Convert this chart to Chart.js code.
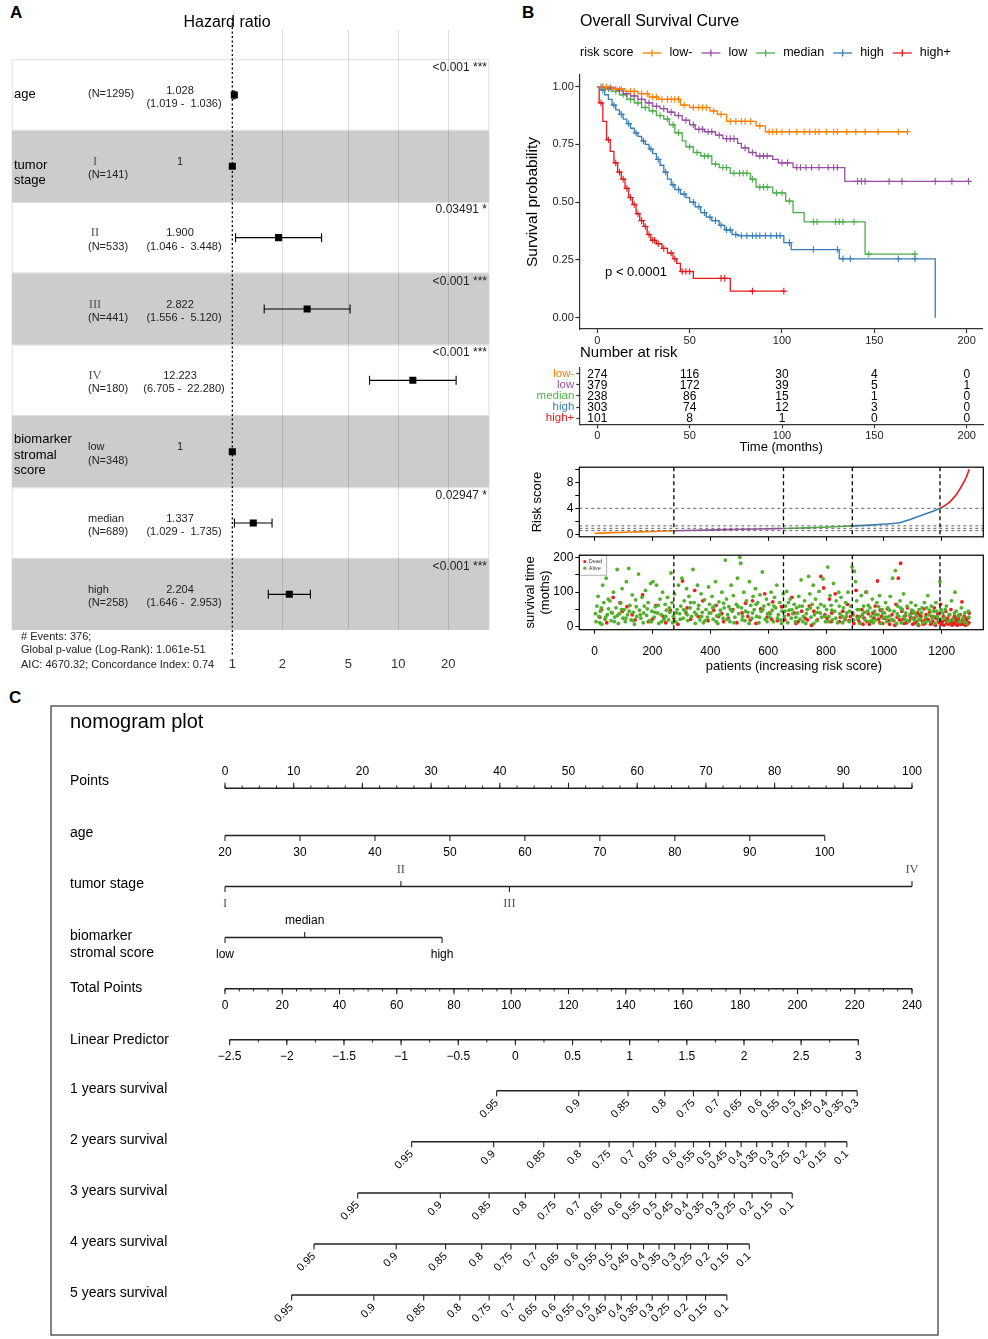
<!DOCTYPE html>
<html>
<head>
<meta charset="utf-8">
<script src="https://cdn.jsdelivr.net/npm/chart.js@4.4.1/dist/chart.umd.min.js"></script>
<style>
html, body { margin: 0; padding: 0; background: #fff; }
body { width: 988px; height: 1339px; position: relative; overflow: hidden; font-family: "Liberation Sans", Arial, sans-serif; }
canvas { position: absolute; }
.tag { position: absolute; font-weight: bold; font-size: 17px; line-height: 1; }
</style>
</head>
<body>
<div class="tag" style="left:10px;top:4px">A</div>
<div class="tag" style="left:522px;top:4px">B</div>
<div class="tag" style="left:9px;top:689px">C</div>
<canvas id="forest" width="500" height="680" style="left:0;top:0"></canvas>
<canvas id="km" width="478" height="350" style="left:510px;top:0"></canvas>
<canvas id="risk" width="478" height="118" style="left:510px;top:340px"></canvas>
<canvas id="score" width="478" height="88" style="left:510px;top:458px"></canvas>
<canvas id="dots" width="478" height="134" style="left:510px;top:546px"></canvas>
<canvas id="nomo" width="988" height="654" style="left:0;top:685px"></canvas>
<script>
// ── DATA: forest plot (Cox model) ──
const hrRows  = ['age', 'I', 'II', 'III', 'IV', 'low', 'median', 'high'];
const hrN     = [1295, 141, 533, 441, 180, 348, 689, 258];
const hrEst   = [1.028, 1, 1.900, 2.822, 12.223, 1, 1.337, 2.204];
const hrLow   = [1.019, null, 1.046, 1.556, 6.705, null, 1.029, 1.646];
const hrHigh  = [1.036, null, 3.448, 5.120, 22.280, null, 1.735, 2.953];
const hrP     = ['<0.001 ***', '', '0.03491 *', '<0.001 ***', '<0.001 ***', '', '0.02947 *', '<0.001 ***'];
const hrTicks = [1, 2, 5, 10, 20];
const hrGroups = [
    { row: 0, lines: ['age'], dy: [-1] },
    { row: 1, lines: ['tumor', 'stage'], dy: [-1, 14] },
    { row: 5, lines: ['biomarker', 'stromal', 'score'], dy: [-12, 3.5, 19] },
];
const hrFooter = ['# Events: 376;', 'Global p-value (Log-Rank): 1.061e-51', 'AIC: 4670.32; Concordance Index: 0.74'];

// ── DATA: survival curves [months, survival] + censor times ──
const grpNames  = ['low-', 'low', 'median', 'high', 'high+'];
const grpColors = ['#FF7F00', '#984EA3', '#4DAF4A', '#377EB8', '#E41A1C'];

const kmLowMinus = [[0,1],[8,0.99],[15,0.98],[22,0.97],[28,0.955],[33,0.945],[45,0.92],[50,0.91],[61,0.895],[65,0.88],[70,0.85],[86,0.83],[91,0.805]];
const cenLowMinus = [5,10,13,18,20,24,27,30,32,35,38,40,42,44,47,52,55,57,59,63,67,72,75,78,80,83,88,93,95,97,100,104,108,112,115,118,120,124,128,130,135,140,145,152,163,168];
const kmLow = [[0,1],[5,0.995],[10,0.985],[14,0.97],[18,0.96],[22,0.945],[26,0.93],[30,0.915],[34,0.905],[38,0.89],[42,0.875],[46,0.855],[50,0.835],[53,0.815],[58,0.805],[64,0.79],[68,0.775],[76,0.755],[78,0.735],[82,0.715],[86,0.70],[95,0.685],[98,0.67],[106,0.65],[134,0.59]];
const cenLow = [3,7,12,16,20,24,28,32,36,40,44,48,52,55,57,60,62,66,70,72,74,80,84,88,90,92,100,103,108,110,113,116,120,125,128,130,141,143,145,158,165,183,192,201];
const kmMedian = [[0,1],[4,0.99],[8,0.98],[12,0.965],[16,0.945],[20,0.93],[24,0.91],[28,0.895],[32,0.875],[36,0.86],[39,0.835],[42,0.80],[46,0.765],[48,0.74],[52,0.715],[56,0.70],[62,0.665],[66,0.65],[72,0.625],[83,0.60],[86,0.565],[95,0.54],[102,0.505],[106,0.455],[112,0.415],[145,0.275]];
const cenMedian = [2,6,10,14,18,22,26,30,34,38,41,44,50,54,58,60,64,68,70,74,77,79,81,84,88,90,92,97,100,104,117,119,129,131,133,139,147,172];
const kmHigh = [[0,1],[2,0.985],[4,0.965],[6,0.945],[8,0.92],[10,0.9],[12,0.88],[14,0.86],[16,0.84],[18,0.82],[20,0.80],[22,0.785],[24,0.765],[26,0.75],[28,0.73],[30,0.71],[32,0.685],[34,0.66],[36,0.63],[38,0.60],[40,0.575],[42,0.555],[45,0.535],[48,0.52],[50,0.50],[53,0.48],[56,0.455],[59,0.435],[62,0.42],[66,0.40],[69,0.38],[73,0.36],[76,0.355],[101,0.325],[105,0.295],[131,0.255],[183,0]];
const cenHigh = [3,9,13,17,21,25,29,33,37,41,44,47,52,55,58,61,64,67,70,72,75,78,81,84,86,88,91,94,97,99,104,117,130,133,137,163,172];
const kmHighPlus = [[0,1],[1,0.93],[3,0.85],[5,0.77],[7,0.72],[9,0.67],[11,0.63],[13,0.6],[15,0.56],[17,0.52],[19,0.49],[21,0.45],[23,0.42],[25,0.395],[27,0.36],[29,0.335],[32,0.32],[35,0.30],[38,0.28],[41,0.255],[43,0.235],[45,0.2],[52,0.17],[72,0.115]];
const cenHighPlus = [2,6,10,12,14,16,18,20,22,24,26,28,30,31,33,36,40,42,46,48,50,67,69,84,101];
const kmTicksX = [0, 50, 100, 150, 200];
const kmTicksY = [0, 0.25, 0.5, 0.75, 1];

// ── DATA: number at risk ──
const riskTimes    = [0, 50, 100, 150, 200];
const riskLowMinus = [274, 116, 30, 4, 0];
const riskLow      = [379, 172, 39, 5, 1];
const riskMedian   = [238, 86, 15, 1, 0];
const riskHigh     = [303, 74, 12, 3, 0];
const riskHighPlus = [101, 8, 1, 0, 0];

// ── DATA: risk score by patient rank ──
const scoreLowMinus = [[0,0.16],[60,0.27],[130,0.36],[200,0.45],[274,0.56]];
const scoreLow      = [[274,0.56],[380,0.66],[480,0.75],[570,0.83],[653,0.91]];
const scoreMedian   = [[653,0.91],[730,1.0],[810,1.13],[891,1.31]];
const scoreHigh     = [[891,1.31],[950,1.42],[1010,1.6],[1055,1.8],[1091,2.3],[1136,3.0],[1160,3.4],[1194,4.0]];
const scoreHighPlus = [[1194,4.0],[1217,4.6],[1235,5.3],[1252,6.2],[1275,7.9],[1286,8.9],[1295,10.0]];
const cutPatients = [274, 653, 891, 1194];
const cutScores   = [0.58, 0.93, 1.31, 4.0];
const patientTicks = [0, 200, 400, 600, 800, 1000, 1200];
const scoreTicks   = [0, 2, 4, 6, 8, 10];
const timeTicks    = [0, 50, 100, 150, 200];

// ── DATA: survival time per patient [rank, months] ──
const alivePts = [[5,15],[8,60],[12,88],[15,30],[20,45],[25,8],[28,120],[32,70],[36,22],[40,140],[44,35],[48,52],
[53,75],[57,18],[61,40],[65,100],[70,28],[74,55],[78,165],[82,10],[86,38],[90,68],[95,110],[98,25],
[102,50],[106,15],[110,130],[114,35],[118,168],[122,62],[126,20],[130,92],[134,42],[138,8],[142,78],[146,30],
[152,152],[155,48],[160,25],[164,85],[168,12],[172,60],[176,105],[180,33],[185,70],[190,18],[194,125],[198,45],
[202,130],[206,28],[210,58],[214,120],[218,40],[222,10],[226,80],[230,35],[235,100],[240,22],[244,65],[248,48],
[252,85],[256,20],[260,42],[264,155],[268,70],[272,30],[276,95],[280,15],[285,50],[290,120],[294,38],[298,60],
[302,140],[306,25],[310,75],[314,45],[318,110],[322,18],[326,88],[330,55],[335,30],[340,165],[344,70],[348,10],
[352,35],[356,120],[360,62],[364,20],[368,95],[372,42],[376,12],[380,78],[385,50],[390,28],[394,115],[398,65],
[402,40],[406,88],[410,22],[414,60],[418,130],[422,32],[426,10],[430,72],[435,48],[440,100],[444,25],[448,55],
[452,192],[456,80],[460,35],[464,58],[468,15],[472,120],[476,45],[480,90],[485,28],[490,65],[494,140],[498,38],
[502,200],[505,183],[508,55],[512,30],[516,100],[520,18],[525,75],[530,42],[535,130],[540,62],[544,25],[548,88],
[552,50],[556,110],[560,30],[564,70],[568,12],[572,92],[576,45],[580,158],[585,60],[590,22],[594,80],[598,38],
[602,65],[606,28],[610,100],[614,48],[618,15],[622,85],[626,55],[630,120],[635,35],[640,70],[644,20],[648,45],
[652,95],[656,30],[660,60],[664,102],[668,12],[672,48],[676,80],[680,25],[685,38],[690,65],[694,15],[698,55],
[702,40],[706,88],[710,22],[714,135],[718,60],[722,30],[726,75],[730,10],[735,50],[740,145],[744,95],[748,28],
[752,65],[756,120],[760,35],[764,80],[768,18],[772,55],[776,102],[780,40],[785,28],[790,138],[794,60],[798,15],
[802,50],[806,172],[810,30],[814,90],[818,62],[822,20],[826,125],[830,45],[835,75],[840,12],[844,100],[848,38],
[852,85],[856,30],[860,55],[864,20],[868,70],[872,40],[876,100],[880,15],[885,60],[890,172],[894,35],[898,160],
[902,130],[906,75],[910,25],[914,50],[918,10],[922,90],[926,35],[930,60],[935,20],[940,100],[944,45],[948,15],
[952,55],[956,30],[960,80],[964,12],[968,45],[972,20],[976,70],[980,35],[985,90],[990,10],[994,50],[998,25],
[1002,40],[1006,70],[1010,15],[1014,55],[1018,30],[1022,88],[1026,20],[1030,140],[1035,45],[1040,162],[1044,10],[1048,60],
[1052,30],[1056,75],[1060,12],[1064,50],[1068,95],[1072,22],[1076,40],[1080,60],[1085,15],[1090,35],[1094,70],[1098,25],
[1102,45],[1106,18],[1110,62],[1114,30],[1118,8],[1122,50],[1126,22],[1130,40],[1135,12],[1140,70],[1144,28],[1148,55],
[1152,90],[1156,35],[1160,15],[1164,60],[1168,25],[1172,45],[1176,10],[1180,70],[1185,30],[1190,20],[1194,130],[1198,50],
[1204,40],[1210,25],[1216,60],[1222,15],[1228,35],[1234,75],[1240,20],[1246,100],[1250,45],
[1256,30],[1262,15],[1268,55],[1274,25],[1280,40],[1286,10],[1292,45],
[3,38],[18,12],[23,55],[38,28],[47,80],[58,42],[68,15],[79,33],[93,50],[108,25],[120,45],[132,18],[144,58],[158,35],
[170,40],[182,52],[196,15],[208,42],[220,62],[232,15],[246,30],[258,55],[270,12],[282,40],[296,22],[308,50],[320,35],
[332,70],[346,42],[358,52],[370,30],[382,18],[396,40],[408,55],[420,15],[432,35],[446,68],[458,22],[470,50],[482,12],
[496,58],[510,20],[522,45],[534,10],[546,40],[558,65],[570,28],[582,50],[596,15],[608,38],[620,60],[632,25],[646,10],
[658,45],[670,70],[682,50],[696,28],[708,60],[720,15],[732,38],[746,55],[758,10],[770,42],[782,65],[796,30],[808,15],
[820,48],[834,25],[846,60],[858,12],[870,30],[882,45],[896,20],[908,50],[920,30],[932,42],[946,62],[958,18],[970,35],
[982,58],[996,40],[1008,28],[1020,48],[1032,20],[1046,38],[1058,55],[1070,30],[1082,18],[1096,48],[1108,38],[1120,20],
[1132,55],[1146,15],[1158,48],[1170,30],[1182,45],[1196,22],[1212,50],[1226,18],[1244,40],[1260,35],[1278,15],[1294,28]];
const deadPts = [[18,28],[42,12],[64,85],[88,70],[96,45],[112,58],[140,20],[166,92],[186,15],[212,62],[238,30],[246,12],
[262,48],[274,26],[288,8],[304,132],[316,40],[332,22],[346,105],[358,30],[374,75],[392,18],[412,48],[428,30],[446,15],
[420,62],[462,25],[478,50],[492,12],[510,40],[522,68],[538,20],[546,75],[558,10],[574,52],[588,95],[596,28],[604,40],
[616,72],[632,18],[646,58],[658,20],[670,35],[682,85],[696,10],[704,15],[716,45],[728,25],[742,60],[750,5],[758,45],
[770,20],[782,145],[792,112],[796,35],[804,25],[812,80],[820,40],[832,95],[846,15],[858,45],[866,22],[874,65],[884,30],
[892,40],[896,10],[904,105],[908,30],[916,12],[924,50],[932,25],[938,100],[946,38],[950,8],[954,15],[962,40],[970,60],
[978,132],[982,22],[988,48],[996,10],[992,30],[1004,25],[1012,52],[1020,8],[1028,35],[1034,18],[1042,65],[1046,28],
[1050,140],[1054,20],[1058,183],[1062,45],[1070,10],[1074,32],[1082,55],[1088,18],[1096,40],[1100,8],[1104,25],[1108,12],
[1116,40],[1120,5],[1128,30],[1132,18],[1138,52],[1142,10],[1146,35],[1150,22],[1154,20],[1158,42],[1162,8],[1166,30],
[1170,15],[1174,55],[1178,5],[1182,25],[1186,38],[1192,12],[1196,65],[1202,15],[1206,30],[1208,5],[1212,20],[1214,45],
[1218,10],[1220,25],[1224,8],[1226,35],[1230,15],[1232,50],[1236,5],[1238,22],[1242,12],[1244,30],[1248,8],[1252,18],
[1254,5],[1258,25],[1260,10],[1264,35],[1266,8],[1270,72],[1272,20],[1276,12],[1278,30],[1282,5],[1284,18],[1288,8],
[1290,25],[1294,12],[1295,40],[912,20],[928,8],[942,15],[966,25],[986,12],[1016,18],[1038,5],[1066,22],[1078,12],
[1092,28],[1112,15],[1124,35],[1136,8],[1144,20],[1164,12],[1176,28],[1188,15],[1200,8],[1216,18],[1234,12],[1250,25],
[1262,15],[1274,8],[1286,22],[24,50],[130,35],[200,22],[320,55],[440,38],[530,30],[612,22],[690,40],[736,20],[818,15],
[850,28],[880,18]];
const dotTicksY = [0, 50, 100, 150, 200];

// ── DATA: nomogram ──
const pointsTicks  = [0, 10, 20, 30, 40, 50, 60, 70, 80, 90, 100];
const ageTicks     = [20, 30, 40, 50, 60, 70, 80, 90, 100];
const ageRange     = [20, 100];
const agePtsRange  = [0, 87.3];
const stageLevels  = ['I', 'II', 'III', 'IV'];
const stagePts     = [0, 25.6, 41.4, 100];
const stromaLevels = ['low', 'median', 'high'];
const stromaPts    = [0, 11.6, 31.6];
const totalTicks   = [0, 20, 40, 60, 80, 100, 120, 140, 160, 180, 200, 220, 240];
const totalRange   = [0, 240];
const lpTicks      = [-2.5, -2, -1.5, -1, -0.5, 0, 0.5, 1, 1.5, 2, 2.5, 3];
const lpRange      = [-2.5, 3];
const lpPtsRange   = [0.68, 92.18];
const surv1Probs = [0.95,0.9,0.85,0.8,0.75,0.7,0.65,0.6,0.55,0.5,0.45,0.4,0.35,0.3];
const surv1LP    = [-0.164,0.554,0.986,1.307,1.558,1.774,1.970,2.146,2.297,2.442,2.583,2.719,2.859,2.990];
const survProbs  = [0.95,0.9,0.85,0.8,0.75,0.7,0.65,0.6,0.55,0.5,0.45,0.4,0.35,0.3,0.25,0.2,0.15,0.1];
const surv2LP = [-0.908,-0.190,0.248,0.564,0.820,1.031,1.227,1.398,1.558,1.699,1.840,1.975,2.111,2.247,2.387,2.543,2.709,2.900];
const surv3LP = [-1.380,-0.657,-0.230,0.087,0.343,0.559,0.750,0.921,1.081,1.227,1.368,1.503,1.639,1.774,1.915,2.071,2.237,2.422];
const surv4LP = [-1.762,-1.043,-0.611,-0.295,-0.039,0.177,0.368,0.539,0.700,0.840,0.981,1.121,1.257,1.393,1.533,1.689,1.855,2.046];
const surv5LP = [-1.958,-1.239,-0.802,-0.486,-0.230,-0.014,0.177,0.343,0.504,0.644,0.785,0.926,1.061,1.197,1.337,1.498,1.664,1.850];

// ── HELPERS ──
const FONT  = '"Liberation Sans", Arial, Helvetica, sans-serif';
const SERIF = '"Liberation Serif", "Times New Roman", serif';
Chart.defaults.font.family = FONT;
Chart.defaults.color = '#000';

function txt(ctx, s, x, y, o = {}) {
    ctx.save();
    ctx.font = (o.weight || '') + ' ' + (o.size || 12) + 'px ' + (o.family || FONT);
    ctx.fillStyle = o.color || '#000';
    ctx.textAlign = o.align || 'left';
    ctx.textBaseline = o.base || 'middle';
    ctx.translate(x, y);
    if (o.rot) ctx.rotate(o.rot);
    ctx.fillText(s, 0, 0);
    ctx.restore();
}
function seg(ctx, x1, y1, x2, y2) {
    ctx.beginPath(); ctx.moveTo(x1, y1); ctx.lineTo(x2, y2); ctx.stroke();
}
function lin(v, from, to) {
    return to[0] + (v - from[0]) * (to[1] - to[0]) / (from[1] - from[0]);
}
function seq(a, b, s) {
    const out = [];
    for (let v = a; v <= b + 1e-9; v += s) out.push(+v.toFixed(4));
    return out;
}
function fixTicks(values) {
    return s => { s.ticks = values.map(v => ({ value: v })); };
}
const base = { responsive: false, animation: false, events: [],
    plugins: { legend: { display: false }, tooltip: { enabled: false } } };

// ── A: FOREST PLOT ──
const forestDeco = {
    id: 'forestDeco',
    beforeDraw(chart) {
        const { ctx, chartArea: a, scales: { y } } = chart;
        ctx.save();
        hrRows.forEach((r, i) => {
            const t = y.getPixelForValue(i), b = y.getPixelForValue(i + 1);
            if (i % 2) {
                ctx.fillStyle = '#cccccc';
                ctx.fillRect(a.left, t, a.right - a.left, b - t);
            } else {
                ctx.strokeStyle = '#e0e0e0'; ctx.lineWidth = 1;
                ctx.strokeRect(a.left + 0.5, t + 0.5, a.right - a.left - 1, b - t - 1);
            }
        });
        ctx.restore();
    },
    beforeDatasetsDraw(chart) {
        const { ctx, scales: { x, y } } = chart;
        ctx.save();
        ctx.strokeStyle = '#000'; ctx.lineWidth = 1.3;
        ctx.setLineDash([2, 2.5]);
        const x1 = x.getPixelForValue(1);
        seg(ctx, x1, 18, x1, 656);
        ctx.setLineDash([]);
        ctx.lineWidth = 1.1;
        hrLow.forEach((lo, i) => {
            if (lo == null) return;
            const cy = y.getPixelForValue(i + 0.5);
            const xl = x.getPixelForValue(lo), xh = x.getPixelForValue(hrHigh[i]);
            seg(ctx, xl, cy, xh, cy);
            seg(ctx, xl, cy - 4.5, xl, cy + 4.5);
            seg(ctx, xh, cy - 4.5, xh, cy + 4.5);
        });
        ctx.restore();
    },
    afterDraw(chart) {
        const { ctx, scales: { y } } = chart;
        txt(ctx, 'Hazard ratio', 227, 23, { size: 16, align: 'center' });
        hrGroups.forEach(g => g.lines.forEach((s, k) =>
            txt(ctx, s, 14, y.getPixelForValue(g.row + 0.5) + g.dy[k], { size: 13 })));
        hrRows.forEach((lvl, i) => {
            const cy = y.getPixelForValue(i + 0.5), top = y.getPixelForValue(i);
            const n = '(N=' + hrN[i] + ')';
            if (i === 0) {
                txt(ctx, n, 88, cy - 1, { size: 11, color: '#222' });
            } else {
                if (i <= 4) txt(ctx, lvl, 95, cy - 4.5, { size: 12.5, family: SERIF, align: 'center', color: '#555' });
                else txt(ctx, lvl, 88, cy - 4.5, { size: 11, color: '#222' });
                txt(ctx, n, 88, cy + 9, { size: 11, color: '#222' });
            }
            const est = hrLow[i] == null ? '1' : hrEst[i].toFixed(3);
            txt(ctx, est, 180, cy - 4.5, { size: 11, align: 'center', color: '#222' });
            if (hrLow[i] != null)
                txt(ctx, '(' + hrLow[i].toFixed(3) + ' -  ' + hrHigh[i].toFixed(3) + ')', 184, cy + 9,
                    { size: 11, align: 'center', color: '#222' });
            if (hrP[i]) txt(ctx, hrP[i], 487, top + 8, { size: 12, align: 'right', color: '#222' });
        });
        hrFooter.forEach((s, k) => txt(ctx, s, 21, [637, 650, 665][k], { size: 11, color: '#222' }));
    }
};

new Chart(document.getElementById('forest'), {
    type: 'scatter',
    data: { datasets: [{
        data: hrEst.map((v, i) => ({ x: v, y: i + 0.5 })),
        pointStyle: 'rect', pointRadius: 5, backgroundColor: '#000', borderColor: '#000', borderWidth: 0
    }] },
    options: { ...base,
        layout: { padding: { left: 11.7, right: 10.7, top: 30, bottom: 0 } },
        scales: {
            x: { type: 'logarithmic', min: 0.0469, max: 35.3,
                afterBuildTicks: fixTicks(hrTicks),
                afterFit: s => { s.height = 50; },
                border: { display: false },
                grid: { drawTicks: false, lineWidth: 1,
                    color: c => (c.tick && c.tick.value === 1) ? 'rgba(0,0,0,0)' : 'rgba(0,0,0,0.13)' },
                ticks: { padding: 27, font: { size: 13 }, color: '#333', maxRotation: 0, autoSkip: false,
                    callback: v => String(v) } },
            y: { type: 'linear', display: false, reverse: true, min: -0.411, max: 8.0 }
        }
    },
    plugins: [forestDeco]
});

// ── B: KAPLAN-MEIER ──
function kmData(steps, cens) {
    const pts = steps.map(([t, s]) => ({ x: t, y: s, c: 0 }));
    cens.forEach(t => {
        let s = 1;
        steps.forEach(([tt, ss]) => { if (tt <= t) s = ss; });
        pts.push({ x: t, y: s, c: 1 });
    });
    return pts.sort((a, b) => a.x - b.x || a.c - b.c);
}
const kmSets = [[kmLowMinus, cenLowMinus], [kmLow, cenLow], [kmMedian, cenMedian], [kmHigh, cenHigh], [kmHighPlus, cenHighPlus]];

const axisStyle = {
    border: { color: '#333', width: 1.2 },
    grid: { drawOnChartArea: false, tickLength: 4, tickColor: '#333', tickWidth: 1.2 },
};

const kmDeco = {
    id: 'kmDeco',
    afterDraw(chart) {
        const { ctx, scales: { x, y } } = chart;
        txt(ctx, 'Overall Survival Curve', 70, 22, { size: 16 });
        txt(ctx, 'risk score', 70, 53, { size: 12.5 });
        ctx.save();
        ctx.font = '12.5px ' + FONT;
        let cx = 70 + ctx.measureText('risk score').width + 9;
        grpNames.forEach((nm, g) => {
            ctx.strokeStyle = grpColors[g]; ctx.lineWidth = 1.3;
            seg(ctx, cx, 53, cx + 19, 53);
            seg(ctx, cx + 9.5, 49.5, cx + 9.5, 56.5);
            txt(ctx, nm, cx + 27, 53, { size: 12.5 });
            cx += 27 + ctx.measureText(nm).width + 9;
        });
        ctx.restore();
        txt(ctx, 'p < 0.0001', x.getPixelForValue(4.2), y.getPixelForValue(0.198), { size: 13 });
    }
};

new Chart(document.getElementById('km'), {
    type: 'scatter',
    data: { datasets: kmSets.map(([st, ce], g) => ({
        data: kmData(st, ce), showLine: true, stepped: 'before',
        borderColor: grpColors[g], borderWidth: 1.3,
        pointStyle: 'cross', pointRadius: c => (c.raw && c.raw.c ? 3.3 : 0),
        pointBorderColor: grpColors[g], pointBorderWidth: 1.1, clip: false
    })) },
    options: { ...base,
        layout: { padding: { top: 75, right: 5, left: 0, bottom: 0 } },
        scales: {
            x: { type: 'linear', min: -9.75, max: 208.8, ...axisStyle,
                afterBuildTicks: fixTicks(kmTicksX), afterFit: s => { s.height = 21; },
                ticks: { font: { size: 11 }, color: '#222', padding: 1, maxRotation: 0, autoSkip: false } },
            y: { type: 'linear', min: -0.049, max: 1.0506, ...axisStyle,
                afterBuildTicks: fixTicks(kmTicksY), afterFit: s => { s.width = 69.3; },
                ticks: { font: { size: 11 }, color: '#222', padding: 1.5, autoSkip: false, callback: v => v.toFixed(2) },
                title: { display: true, text: 'Survival probability', font: { size: 15.5 }, color: '#000',
                    padding: { top: 13.7, bottom: 0 } } }
        }
    },
    plugins: [kmDeco]
});

// ── B: NUMBER AT RISK ──
const riskRows = [riskLowMinus, riskLow, riskMedian, riskHigh, riskHighPlus];
const riskDeco = {
    id: 'riskDeco',
    afterDraw(chart) {
        const { ctx, scales: { x, y } } = chart;
        txt(ctx, 'Number at risk', 70, 13.3, { size: 15 });
        riskRows.forEach((arr, g) => arr.forEach((n, k) =>
            txt(ctx, String(n), x.getPixelForValue(riskTimes[k]), y.getPixelForValue(g) + 0.5,
                { size: 12, align: 'center' })));
    }
};
new Chart(document.getElementById('risk'), {
    type: 'scatter',
    data: { datasets: [] },
    options: { ...base,
        layout: { padding: { top: 28, right: 5, left: 0, bottom: 0 } },
        scales: {
            x: { type: 'linear', min: -9.75, max: 208.8, ...axisStyle,
                afterBuildTicks: fixTicks(timeTicks), afterFit: s => { s.height = 33.7; },
                ticks: { font: { size: 11 }, color: '#222', padding: 1, maxRotation: 0, autoSkip: false },
                title: { display: true, text: 'Time (months)', font: { size: 13 }, color: '#000',
                    padding: { top: 0, bottom: 3 } } },
            y: { type: 'linear', min: -0.511, max: 4.538, reverse: true, ...axisStyle,
                grid: { drawOnChartArea: false, tickLength: 3, tickColor: '#333', tickWidth: 1.2 },
                afterBuildTicks: fixTicks([0, 1, 2, 3, 4]), afterFit: s => { s.width = 69.3; },
                ticks: { font: { size: 11.5 }, padding: 2, autoSkip: false,
                    color: c => grpColors[c.index] || '#000', callback: v => grpNames[v] } }
        }
    },
    plugins: [riskDeco]
});

// ── B: RISK SCORE CURVE ──
const patScale = { type: 'linear', min: -52.9, max: 1343.8, afterBuildTicks: fixTicks(patientTicks),
    border: { display: false } };
const boxDeco = (extra) => ({
    id: 'boxDeco',
    afterDatasetsDraw(chart) {
        const { ctx, chartArea: a, scales: { x, y } } = chart;
        ctx.save();
        extra(ctx, a, x, y);
        ctx.strokeStyle = '#000'; ctx.lineWidth = 1.2;
        ctx.strokeRect(a.left, a.top, a.right - a.left, a.bottom - a.top);
        ctx.restore();
    }
});
const cutLines = (ctx, a, x) => {
    ctx.strokeStyle = '#000'; ctx.lineWidth = 1.3; ctx.setLineDash([4, 3]);
    cutPatients.forEach(p => { const px = x.getPixelForValue(p); seg(ctx, px, a.top, px, a.bottom); });
    ctx.setLineDash([]);
};

new Chart(document.getElementById('score'), {
    type: 'scatter',
    data: { datasets: [scoreLowMinus, scoreLow, scoreMedian, scoreHigh, scoreHighPlus].map((d, g) => ({
        data: d.map(([x, y]) => ({ x, y })), showLine: true, cubicInterpolationMode: 'monotone',
        borderColor: grpColors[g], borderWidth: 1.6, pointRadius: 0
    })) },
    options: { ...base,
        layout: { padding: { top: 2, right: 4.7, left: 0, bottom: 0 } },
        scales: {
            x: { ...patScale, afterFit: s => { s.height = 5; },
                grid: { drawOnChartArea: false, tickLength: 4, tickColor: '#000', tickWidth: 1 },
                ticks: { display: false } },
            y: { type: 'linear', min: -0.37, max: 10.32, border: { display: false },
                afterBuildTicks: fixTicks(scoreTicks), afterFit: s => { s.width = 69.3; },
                grid: { drawOnChartArea: false, tickLength: 4, tickColor: '#000', tickWidth: 1 },
                ticks: { font: { size: 12 }, padding: 2, color: '#000', autoSkip: false,
                    callback: v => (v === 0 || v === 4 || v === 8) ? String(v) : '' },
                title: { display: true, text: 'Risk score', font: { size: 13 }, color: '#000',
                    padding: { top: 20, bottom: 0 } } }
        }
    },
    plugins: [boxDeco((ctx, a, x, y) => {
        ctx.strokeStyle = '#666'; ctx.lineWidth = 1; ctx.setLineDash([3, 3]);
        cutScores.forEach(v => { const py = y.getPixelForValue(v); seg(ctx, a.left, py, a.right, py); });
        cutLines(ctx, a, x);
    })]
});

// ── B: SURVIVAL TIME SCATTER ──
new Chart(document.getElementById('dots'), {
    type: 'scatter',
    data: { datasets: [
        { data: alivePts.map(([x, y]) => ({ x, y })), pointRadius: 1.9, backgroundColor: '#52b12a', borderWidth: 0 },
        { data: deadPts.map(([x, y]) => ({ x, y })), pointRadius: 1.9, backgroundColor: '#e8231e', borderWidth: 0 }
    ] },
    options: { ...base,
        layout: { padding: { top: 3, right: 4.7, left: 0, bottom: 0 } },
        scales: {
            x: { ...patScale, afterFit: s => { s.height = 50.3; },
                grid: { drawOnChartArea: false, tickLength: 4, tickColor: '#000', tickWidth: 1 },
                ticks: { font: { size: 12 }, color: '#000', padding: 11, maxRotation: 0, autoSkip: false,
                    callback: v => String(v) } },
            y: { type: 'linear', min: -7.96, max: 206.1, border: { display: false },
                afterBuildTicks: fixTicks(dotTicksY), afterFit: s => { s.width = 69.3; },
                grid: { drawOnChartArea: false, tickLength: 4, tickColor: '#000', tickWidth: 1 },
                ticks: { font: { size: 12 }, padding: 2, color: '#000', autoSkip: false,
                    callback: v => (v % 100 === 0) ? String(v) : '' },
                title: { display: true, text: ['survival time', '(moths)'], font: { size: 13 }, color: '#000',
                    padding: { top: 12.2, bottom: 0 } } }
        }
    },
    plugins: [boxDeco((ctx, a, x) => {
        cutLines(ctx, a, x);
        ctx.fillStyle = '#fff'; ctx.strokeStyle = '#999'; ctx.lineWidth = 0.8;
        ctx.fillRect(a.left, a.top, 27.4, 20); ctx.strokeRect(a.left, a.top, 27.4, 20);
        [['Dead', '#e8231e', 6.3], ['Alive', '#52b12a', 13]].forEach(([s, c, dy]) => {
            ctx.fillStyle = c; ctx.beginPath(); ctx.arc(a.left + 5.5, a.top + dy, 1.6, 0, Math.PI * 2); ctx.fill();
            txt(ctx, s, a.left + 9.5, a.top + dy, { size: 5.5, color: '#333' });
        });
        txt(ctx, 'patients (increasing risk score)', 284, 120.7, { size: 13, align: 'center' });
    })]
});

// ── C: NOMOGRAM ──
const lpPts = v => lin(v, lpRange, lpPtsRange);
const nomoAxes = [
    { label: ['Points'], dy: [-7], row: 0.075, pos: pointsTicks, text: pointsTicks.map(String), side: -1,
      minor: seq(0, 100, 2.5) },
    { label: ['age'], dy: [-2.5], row: 1, pos: ageTicks.map(v => lin(v, ageRange, agePtsRange)),
      text: ageTicks.map(String), side: 1 },
    { label: ['tumor stage'], dy: [-2.5], row: 2, pos: stagePts, text: stageLevels, side: [1, -1, 1, -1], serif: true },
    { label: ['biomarker', 'stromal score'], dy: [-1.6, 15.4], row: 3, pos: stromaPts, text: stromaLevels, side: [1, -1, 1] },
    { label: ['Total Points'], dy: [-0.7], row: 4, pos: totalTicks.map(v => lin(v, totalRange, [0, 100])),
      text: totalTicks.map(String), side: 1, minor: seq(0, 240, 5).map(v => lin(v, totalRange, [0, 100])) },
    { label: ['Linear Predictor'], dy: [0], row: 5, pos: lpTicks.map(lpPts),
      text: lpTicks.map(v => String(v).replace('-', '\u2212')), side: 1, minor: seq(-2.5, 3, 0.25).map(lpPts) },
    { label: ['1 years survival'], dy: [-1.8], row: 6, pos: surv1LP.map(lpPts), text: surv1Probs.map(String), side: 1, rot: true },
    { label: ['2 years survival'], dy: [-1.8], row: 7, pos: surv2LP.map(lpPts), text: survProbs.map(String), side: 1, rot: true },
    { label: ['3 years survival'], dy: [-1.8], row: 8, pos: surv3LP.map(lpPts), text: survProbs.map(String), side: 1, rot: true },
    { label: ['4 years survival'], dy: [-1.8], row: 9, pos: surv4LP.map(lpPts), text: survProbs.map(String), side: 1, rot: true },
    { label: ['5 years survival'], dy: [-1.8], row: 10, pos: surv5LP.map(lpPts), text: survProbs.map(String), side: 1, rot: true },
];

const nomoDeco = {
    id: 'nomoDeco',
    afterDatasetsDraw(chart) {
        const { ctx, scales: { x, y } } = chart;
        ctx.save();
        ctx.strokeStyle = '#444'; ctx.lineWidth = 1.3;
        ctx.strokeRect(51, 21, 887, 629);
        txt(ctx, 'nomogram plot', 70, 37, { size: 20 });
        nomoAxes.forEach(ax => {
            const yy = y.getPixelForValue(ax.row);
            const side = k => Array.isArray(ax.side) ? ax.side[k] : ax.side;
            ax.label.forEach((s, k) => txt(ctx, s, 70, yy + ax.dy[k], { size: 14 }));
            ctx.strokeStyle = '#222'; ctx.lineWidth = 1;
            (ax.minor || []).forEach(p => { const px = x.getPixelForValue(p); seg(ctx, px, yy, px, yy + side(0) * 2.8); });
            ax.pos.forEach((p, k) => {
                const px = x.getPixelForValue(p), sd = side(k);
                ctx.strokeStyle = '#222'; ctx.lineWidth = 1.1;
                seg(ctx, px, yy, px, yy + sd * 5.5);
                if (ax.rot) txt(ctx, ax.text[k], px, yy + 10.5, { size: 11, align: 'right', rot: -Math.PI / 4 });
                else txt(ctx, ax.text[k], px, yy + sd * 17, { size: ax.serif ? 12.5 : 12, align: 'center',
                    family: ax.serif ? SERIF : FONT, color: ax.serif ? '#555' : '#000' });
            });
        });
        ctx.restore();
    }
};

new Chart(document.getElementById('nomo'), {
    type: 'scatter',
    data: { datasets: nomoAxes.map(ax => ({
        data: [{ x: ax.pos[0], y: ax.row }, { x: ax.pos[ax.pos.length - 1], y: ax.row }],
        showLine: true, borderColor: '#222', borderWidth: 1.5, pointRadius: 0, clip: false
    })) },
    options: { ...base,
        layout: { padding: { left: 225, right: 76, top: 99.45, bottom: 44 } },
        scales: {
            x: { type: 'linear', display: false, min: 0, max: 100 },
            y: { type: 'linear', display: false, min: 0, max: 10, reverse: true }
        }
    },
    plugins: [nomoDeco]
});
</script>
</body>
</html>
